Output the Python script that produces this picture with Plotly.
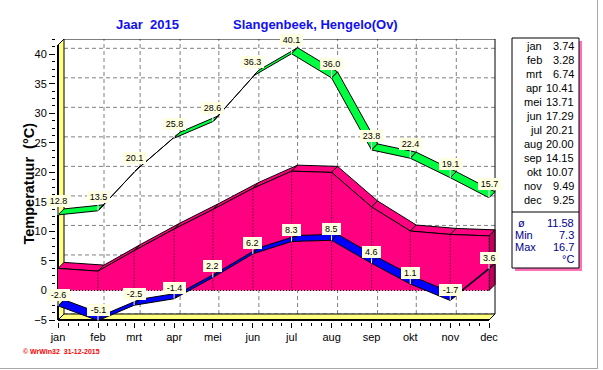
import plotly.graph_objects as go
import pandas as pd

# ---------------- data ----------------
months = ['jan', 'feb', 'mrt', 'apr', 'mei', 'jun', 'jul', 'aug', 'sep', 'okt', 'nov', 'dec']
month_start = ['2015-01-01', '2015-02-01', '2015-03-01', '2015-04-01', '2015-05-01', '2015-06-01',
               '2015-07-01', '2015-08-01', '2015-09-01', '2015-10-01', '2015-11-01', '2015-12-01']
t_max = [12.8, 13.5, 20.1, 25.8, 28.6, 36.3, 40.1, 36.0, 23.8, 22.4, 19.1, 15.7]
t_avg = [3.74, 3.28, 6.74, 10.41, 13.71, 17.29, 20.21, 20.00, 14.15, 10.07, 9.49, 9.25]
t_min = [-2.6, -5.1, -2.5, -1.4, 2.2, 6.2, 8.3, 8.5, 4.6, 1.1, -1.7, 3.6]
avg_text = ['3.74', '3.28', '6.74', '10.41', '13.71', '17.29', '20.21', '20.00', '14.15', '10.07', '9.49', '9.25']
stat_names = ['ø', 'Min', 'Max']
stat_values = ['11.58', '7.3', '16.7']
y_ticks = [-5, 0, 5, 10, 15, 20, 25, 30, 35, 40]

title_left = 'Jaar\u00a0\u00a02015'
title_right = 'Slangenbeek, Hengelo(Ov)'
y_title = 'Temperatuur\u00a0\u00a0(°C)'
footer = '© WrWin32\u00a0\u00a031-12-2015'

# ---------------- layout geometry (pixels) ----------------
W, H = 603, 370
PL, PR, PT, PB = 56, 496, 39, 322          # plot area edges
JAN_PX, DEC_PX = 58, 489                   # front x of jan / dec
YM5_PX, Y40_PX = 320, 54.3                 # front y of -5 / 40
DEPTH = 6                                  # 3D depth offset in px

dates = pd.to_datetime(month_start)
x = [(d - dates[0]).days for d in dates]   # day offsets
kx = (DEC_PX - JAN_PX) / x[-1]
ky = (YM5_PX - Y40_PX) / 45.0
x_range = [(PL - JAN_PX) / kx, (PR - JAN_PX) / kx]
y_range = [-5 - (PB - YM5_PX) / ky, -5 + (YM5_PX - PT) / ky]
DX = DEPTH / kx
DY = DEPTH / ky
y_bot = -5
y_top_front = y_range[1] - DY
x_end = x[-1]


def px_x(p):
    return (p - PL) / (PR - PL)


def px_y(p):
    return (PB - p) / (PB - PT)


GREEN = '#00FF40'
PINK = '#FF0080'
PINK_SIDE = '#C00060'
BLUE = '#0000FF'
YELLOW = '#FFFF80'
LABEL_BG = '#FFFFE1'
GRID = '#808080'
FONT = 'Liberation Sans, Arial, sans-serif'

fig = go.Figure()
shapes = []


def path(xs, ys, close=True):
    s = 'M ' + ' L '.join(f'{a},{b}' for a, b in zip(xs, ys))
    return s + (' Z' if close else '')


# back wall grid (dashed)
for v in y_ticks:
    shapes.append(dict(type='line', xref='x', yref='y', x0=DX, x1=x_end + DX, y0=v + DY, y1=v + DY,
                       line=dict(color=GRID, width=1, dash='4px,3px'), layer='below'))
for xi in x[1:-1]:
    shapes.append(dict(type='line', xref='x', yref='y', x0=xi + DX, x1=xi + DX, y0=y_bot + DY, y1=y_range[1],
                       line=dict(color=GRID, width=1, dash='4px,3px'), layer='below'))
# back wall border top/right
shapes.append(dict(type='path', xref='x', yref='y', layer='below',
                   path=path([DX, x_end + DX, x_end + DX], [y_range[1], y_range[1], y_bot + DY], close=False),
                   line=dict(color='black', width=1)))
# left wall
shapes.append(dict(type='path', xref='x', yref='y', layer='below',
                   path=path([0, 0, DX, DX], [y_bot, y_top_front, y_top_front + DY, y_bot + DY]),
                   fillcolor=YELLOW, line=dict(color='black', width=1)))
# floor
shapes.append(dict(type='path', xref='x', yref='y', layer='below',
                   path=path([0, x_end, x_end + DX, DX], [y_bot, y_bot, y_bot + DY, y_bot + DY]),
                   fillcolor=YELLOW, line=dict(color='black', width=1)))
# thick front edges
shapes.append(dict(type='line', xref='x', yref='y', layer='below', x0=0, x1=0, y0=y_bot, y1=y_top_front,
                   line=dict(color='black', width=2)))
shapes.append(dict(type='line', xref='x', yref='y', layer='below', x0=0, x1=x_end, y0=y_bot, y1=y_bot,
                   line=dict(color='black', width=2)))

# ---------------- average: 3D area ----------------
for i in range(len(x) - 1):
    fig.add_trace(go.Scatter(
        x=[x[i], x[i + 1], x[i + 1] + DX, x[i] + DX, x[i]],
        y=[t_avg[i], t_avg[i + 1], t_avg[i + 1] + DY, t_avg[i] + DY, t_avg[i]],
        mode='lines', fill='toself', fillcolor=PINK, line=dict(color='black', width=1),
        hoverinfo='skip', showlegend=False))
# right side face
fig.add_trace(go.Scatter(
    x=[x_end, x_end, x_end + DX, x_end + DX, x_end],
    y=[0, t_avg[-1], t_avg[-1] + DY, DY, 0],
    mode='lines', fill='toself', fillcolor=PINK_SIDE, line=dict(color='black', width=1),
    hoverinfo='skip', showlegend=False))
# front face
fig.add_trace(go.Scatter(
    x=x + [x_end, 0], y=t_avg + [0, 0],
    mode='lines', fill='toself', fillcolor=PINK, line=dict(width=0),
    hoverinfo='skip', showlegend=False))
fig.add_trace(go.Scatter(x=x, y=t_avg, mode='lines', line=dict(color='black', width=1),
                         hoverinfo='skip', showlegend=False))
# dotted lines on front face
for xi, v in zip(x[1:], t_avg[1:]):
    fig.add_trace(go.Scatter(x=[xi, xi], y=[0, v], mode='lines',
                             line=dict(color='black', width=1, dash='1px,2px'),
                             hoverinfo='skip', showlegend=False))
fig.add_trace(go.Scatter(x=[0, x_end], y=[0, 0], mode='lines',
                         line=dict(color='black', width=1, dash='1px,2px'),
                         hoverinfo='skip', showlegend=False))


# ---------------- ribbons ----------------
def ribbon(vals, color):
    for i in range(len(x) - 1):
        fig.add_trace(go.Scatter(
            x=[x[i], x[i + 1], x[i + 1] + DX, x[i] + DX, x[i]],
            y=[vals[i], vals[i + 1], vals[i + 1] + DY, vals[i] + DY, vals[i]],
            mode='lines', fill='toself', fillcolor=color, line=dict(color='black', width=1),
            hoverinfo='skip', showlegend=False))


ribbon(t_min, BLUE)
ribbon(t_max, GREEN)

annotations = []
for vals, off in ((t_max, -14), (t_min, -11)):
    for xi, v in zip(x, vals):
        txt = f'{v:.1f}'
        annotations.append(dict(x=xi, y=v, xref='x', yref='y', text=txt, showarrow=True,
                                arrowhead=0, arrowcolor='white', arrowwidth=1, ax=0, ay=off,
                                standoff=0, startstandoff=0,
                                width=4.5 * len(txt) + 3, height=10,
                                bgcolor=LABEL_BG, borderpad=1, borderwidth=0,
                                font=dict(family=FONT, size=9, color='black')))

# ---------------- titles ----------------
annotations.append(dict(x=px_x(114), y=px_y(24), xref='paper', yref='paper', xanchor='left', yanchor='middle',
                        text=f'<b>{title_left}</b>', showarrow=False,
                        font=dict(family=FONT, size=13, color='#1010F0')))
annotations.append(dict(x=px_x(231), y=px_y(24), xref='paper', yref='paper', xanchor='left', yanchor='middle',
                        text=f'<b>{title_right}</b>', showarrow=False,
                        font=dict(family=FONT, size=13, color='#1010F0')))
annotations.append(dict(x=px_x(28), y=px_y(183.5), xref='paper', yref='paper', xanchor='center',
                        yanchor='middle', textangle=-90, text=f'<b>{y_title}</b>', showarrow=False,
                        font=dict(family=FONT, size=14.5, color='black')))
annotations.append(dict(x=px_x(21), y=px_y(351), xref='paper', yref='paper', xanchor='left', yanchor='middle',
                        text=f'<b>{footer}</b>', showarrow=False,
                        font=dict(family=FONT, size=7, color='#FF0000')))

# ---------------- side table ----------------
BX0, BX1, BY0, BY1 = 512, 579, 38, 268
shapes.append(dict(type='rect', xref='paper', yref='paper', x0=px_x(BX0 + 3), x1=px_x(BX1 + 3),
                   y0=px_y(BY1 + 3), y1=px_y(BY0 + 3), fillcolor='#FF70B8', line=dict(width=0)))
shapes.append(dict(type='rect', xref='paper', yref='paper', x0=px_x(BX0), x1=px_x(BX1),
                   y0=px_y(BY1), y1=px_y(BY0), fillcolor='white', line=dict(color='black', width=1)))
shapes.append(dict(type='line', xref='paper', yref='paper', x0=px_x(BX0), x1=px_x(BX1),
                   y0=px_y(212), y1=px_y(212), line=dict(color='black', width=1)))
for i, (m, t) in enumerate(zip(months, avg_text)):
    yy = px_y(46 + 14 * i)
    annotations.append(dict(x=px_x(544), y=yy, xref='paper', yref='paper', xanchor='right', yanchor='middle',
                            text=m, showarrow=False, font=dict(family=FONT, size=11, color='black')))
    annotations.append(dict(x=px_x(576), y=yy, xref='paper', yref='paper', xanchor='right', yanchor='middle',
                            text=t, showarrow=False, font=dict(family=FONT, size=11, color='black')))
NAVY = '#000090'
for i, (n, v) in enumerate(zip(stat_names, stat_values)):
    yy = px_y(223 + 12 * i)
    if i == 0:
        annotations.append(dict(x=px_x(521), y=yy, xref='paper', yref='paper', xanchor='center',
                                yanchor='middle', text=n, showarrow=False,
                                font=dict(family=FONT, size=11, color=NAVY)))
    else:
        annotations.append(dict(x=px_x(513), y=yy, xref='paper', yref='paper', xanchor='left',
                                yanchor='middle', text=n, showarrow=False,
                                font=dict(family=FONT, size=11, color=NAVY)))
    annotations.append(dict(x=px_x(576), y=yy, xref='paper', yref='paper', xanchor='right', yanchor='middle',
                            text=v, showarrow=False, font=dict(family=FONT, size=11, color=NAVY)))
annotations.append(dict(x=px_x(576), y=px_y(259), xref='paper', yref='paper', xanchor='right', yanchor='middle',
                        text='°C', showarrow=False, font=dict(family=FONT, size=11, color=NAVY)))

# window frame lines
shapes.append(dict(type='line', xref='paper', yref='paper', x0=px_x(597.5), x1=px_x(597.5),
                   y0=px_y(369), y1=px_y(0), line=dict(color='#A8A8A8', width=1)))
shapes.append(dict(type='line', xref='paper', yref='paper', x0=px_x(0), x1=px_x(598),
                   y0=px_y(368.5), y1=px_y(368.5), line=dict(color='#A8A8A8', width=1)))

# minor x ticks at quarter months
minor_x = []
for a, b in zip(x[:-1], x[1:]):
    minor_x += [a + (b - a) * k / 4 for k in (1, 2, 3)]

fig.update_layout(
    width=W, height=H,
    margin=dict(l=PL, r=W - PR, t=PT, b=H - PB, pad=0, autoexpand=False),
    paper_bgcolor='white', plot_bgcolor='white',
    shapes=shapes, annotations=annotations,
    showlegend=False,
    xaxis=dict(range=x_range, showgrid=False, zeroline=False, showline=False, automargin=False,
               tickmode='array', tickvals=x, ticktext=months,
               ticks='outside', ticklen=5, tickcolor='black', tickwidth=1,
               tickfont=dict(family=FONT, size=11, color='black'),
               minor=dict(tickmode='array', tickvals=minor_x, ticks='outside', ticklen=3,
                          tickcolor='black', showgrid=False),
               fixedrange=True),
    yaxis=dict(range=y_range, showgrid=False, zeroline=False, showline=False, automargin=False,
               tickmode='array', tickvals=y_ticks,
               ticks='outside', ticklen=6, tickcolor='black', tickwidth=1,
               tickfont=dict(family=FONT, size=11, color='black'),
               minor=dict(tickmode='linear', tick0=-5, dtick=1.25, ticks='outside', ticklen=3,
                          tickcolor='black', showgrid=False),
               fixedrange=True),
)

fig.write_html('out.html', config={'displayModeBar': False},
               post_script="document.body.style.margin='0';document.body.style.padding='0';")
